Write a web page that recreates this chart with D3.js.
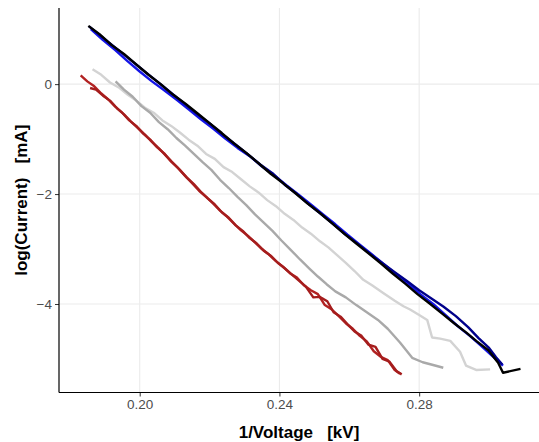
<!DOCTYPE html>
<html>
<head>
<meta charset="utf-8">
<script src="https://cdn.jsdelivr.net/npm/d3@7"></script>
<style>
  body { margin: 0; background: #fff; }
  text { font-family: "Liberation Sans", Arial, Helvetica, sans-serif; }
</style>
</head>
<body>
<div id="chart"></div>
<script>
// tick values
const xTicks = [0.20, 0.24, 0.28];
const yTicks = [-4, -2, 0];

// series: [1/V, log(I)]
const lightGrey = [
  [0.1865, 0.27], [0.1890, 0.17], [0.1915, 0.03], [0.1940, -0.06], [0.1965, -0.19],
  [0.1990, -0.30], [0.2015, -0.43], [0.2040, -0.52], [0.2065, -0.66], [0.2090, -0.76],
  [0.2115, -0.88], [0.2140, -1.01], [0.2165, -1.12], [0.2190, -1.27], [0.2215, -1.36],
  [0.2240, -1.51], [0.2265, -1.60], [0.2290, -1.73], [0.2315, -1.86], [0.2340, -1.97],
  [0.2365, -2.11], [0.2390, -2.22], [0.2415, -2.36], [0.2440, -2.47], [0.2465, -2.61],
  [0.2490, -2.72], [0.2516, -2.86], [0.2540, -2.97], [0.2565, -3.11], [0.2590, -3.25],
  [0.2615, -3.40], [0.2640, -3.56], [0.2665, -3.66], [0.2697, -3.80], [0.2730, -3.94],
  [0.2755, -4.04], [0.2774, -4.10], [0.2800, -4.20], [0.2823, -4.29], [0.2837, -4.61],
  [0.2860, -4.63], [0.2889, -4.67], [0.2917, -4.87], [0.2934, -5.12], [0.2963, -5.20],
  [0.3003, -5.19]
];

const midGrey = [
  [0.1931, 0.05], [0.1955, -0.10], [0.1980, -0.23], [0.2005, -0.40], [0.2030, -0.52],
  [0.2055, -0.69], [0.2080, -0.82], [0.2105, -0.98], [0.2130, -1.12], [0.2155, -1.27],
  [0.2180, -1.42], [0.2205, -1.56], [0.2230, -1.74], [0.2255, -1.89], [0.2280, -2.05],
  [0.2305, -2.20], [0.2330, -2.37], [0.2355, -2.52], [0.2380, -2.67], [0.2405, -2.84],
  [0.2430, -3.00], [0.2459, -3.19], [0.2485, -3.35], [0.2510, -3.50], [0.2535, -3.64],
  [0.2560, -3.77], [0.2590, -3.88], [0.2620, -4.02], [0.2650, -4.15], [0.2682, -4.29],
  [0.2710, -4.45], [0.2745, -4.70], [0.2780, -4.98], [0.2810, -5.06], [0.2840, -5.11],
  [0.2869, -5.16]
];

const red1 = [
  [0.1831, 0.16], [0.1850, 0.05], [0.1870, -0.04], [0.1890, -0.17], [0.1910, -0.28],
  [0.1930, -0.41], [0.1950, -0.52], [0.1970, -0.66], [0.1990, -0.76], [0.2010, -0.90],
  [0.2030, -1.01], [0.2050, -1.15], [0.2070, -1.26], [0.2090, -1.41], [0.2110, -1.53],
  [0.2130, -1.67], [0.2150, -1.80], [0.2170, -1.94], [0.2190, -2.05], [0.2210, -2.17],
  [0.2230, -2.30], [0.2250, -2.41], [0.2270, -2.54], [0.2290, -2.66], [0.2310, -2.76],
  [0.2330, -2.88], [0.2350, -3.00], [0.2370, -3.10], [0.2390, -3.22], [0.2410, -3.32],
  [0.2430, -3.44], [0.2450, -3.52], [0.2470, -3.66], [0.2490, -3.75], [0.2510, -3.82],
  [0.2530, -4.02], [0.2550, -4.10], [0.2570, -4.22], [0.2590, -4.35], [0.2610, -4.45],
  [0.2630, -4.58], [0.2650, -4.68], [0.2670, -4.86], [0.2690, -4.96], [0.2710, -5.02],
  [0.2730, -5.20], [0.2745, -5.27]
];

const red2 = [
  [0.1858, -0.07], [0.1875, -0.10], [0.1895, -0.21], [0.1915, -0.30], [0.1935, -0.44],
  [0.1955, -0.55], [0.1975, -0.68], [0.1995, -0.80], [0.2015, -0.92], [0.2035, -1.05],
  [0.2055, -1.17], [0.2075, -1.30], [0.2095, -1.43], [0.2115, -1.56], [0.2135, -1.70],
  [0.2155, -1.82], [0.2175, -1.96], [0.2195, -2.08], [0.2215, -2.19], [0.2235, -2.33],
  [0.2255, -2.43], [0.2275, -2.57], [0.2295, -2.67], [0.2315, -2.80], [0.2335, -2.90],
  [0.2355, -3.03], [0.2375, -3.12], [0.2395, -3.25], [0.2415, -3.35], [0.2435, -3.46],
  [0.2455, -3.57], [0.2475, -3.68], [0.2497, -3.88], [0.2515, -3.87], [0.2537, -3.95],
  [0.2555, -4.15], [0.2575, -4.23], [0.2595, -4.37], [0.2615, -4.50], [0.2635, -4.58],
  [0.2655, -4.74], [0.2675, -4.78], [0.2695, -5.00], [0.2715, -5.05], [0.2735, -5.22],
  [0.2750, -5.28]
];

const blue = [
  [0.1860, 1.00], [0.1895, 0.80], [0.1930, 0.62], [0.1965, 0.42], [0.2000, 0.23],
  [0.2035, 0.05], [0.2070, -0.11], [0.2105, -0.28], [0.2140, -0.46], [0.2175, -0.64],
  [0.2210, -0.81], [0.2245, -0.99], [0.2280, -1.16], [0.2315, -1.31], [0.2350, -1.50],
  [0.2385, -1.66], [0.2420, -1.84], [0.2455, -2.01], [0.2490, -2.19], [0.2525, -2.37],
  [0.2560, -2.55], [0.2595, -2.74], [0.2630, -2.92], [0.2665, -3.10], [0.2700, -3.28],
  [0.2735, -3.46], [0.2770, -3.64], [0.2805, -3.83], [0.2840, -4.00], [0.2875, -4.20],
  [0.2910, -4.40], [0.2945, -4.58], [0.2975, -4.75], [0.3005, -4.92], [0.3030, -5.06],
  [0.3040, -5.12]
];

const navy = [
  [0.1855, 1.05], [0.1890, 0.87], [0.1925, 0.69], [0.1960, 0.51], [0.1995, 0.33],
  [0.2030, 0.15], [0.2065, -0.03], [0.2100, -0.21], [0.2135, -0.39], [0.2170, -0.57],
  [0.2205, -0.74], [0.2240, -0.93], [0.2275, -1.10], [0.2310, -1.28], [0.2345, -1.46],
  [0.2380, -1.62], [0.2415, -1.83], [0.2450, -2.00], [0.2485, -2.19], [0.2520, -2.37],
  [0.2555, -2.55], [0.2590, -2.74], [0.2625, -2.91], [0.2660, -3.09], [0.2695, -3.26],
  [0.2730, -3.42], [0.2765, -3.58], [0.2800, -3.75], [0.2835, -3.90], [0.2870, -4.05],
  [0.2905, -4.22], [0.2940, -4.42], [0.2970, -4.62], [0.3000, -4.80], [0.3020, -4.97],
  [0.3038, -5.10]
];

const black = [
  [0.1853, 1.06], [0.1885, 0.91], [0.1920, 0.71], [0.1955, 0.55], [0.1990, 0.36],
  [0.2025, 0.17], [0.2060, 0.00], [0.2095, -0.19], [0.2130, -0.35], [0.2165, -0.53],
  [0.2200, -0.71], [0.2235, -0.89], [0.2270, -1.08], [0.2305, -1.25], [0.2340, -1.44],
  [0.2375, -1.63], [0.2410, -1.80], [0.2445, -1.98], [0.2480, -2.17], [0.2515, -2.34],
  [0.2550, -2.53], [0.2585, -2.72], [0.2620, -2.90], [0.2655, -3.08], [0.2690, -3.26],
  [0.2725, -3.45], [0.2760, -3.63], [0.2795, -3.82], [0.2830, -3.99], [0.2865, -4.17],
  [0.2900, -4.35], [0.2935, -4.52], [0.2965, -4.68], [0.2998, -4.84], [0.3026, -5.07],
  [0.3040, -5.25], [0.3090, -5.18]
];

const seriesList = [
  { values: lightGrey, color: "#d3d3d3" },
  { values: midGrey, color: "#a9a9a9" },
  { values: red1, color: "#b22222" },
  { values: red2, color: "#a51d1d" },
  { values: blue, color: "#1414e6" },
  { values: navy, color: "#00008b" },
  { values: black, color: "#000000" }
];

const width = 539;
const height = 442;
const plot = { left: 59, right: 539, top: 8, bottom: 392.5 };

const svg = d3.select("#chart").append("svg")
  .attr("width", width)
  .attr("height", height);

const x = d3.scaleLinear()
  .domain([0.1769, 0.3143])
  .range([plot.left, plot.right]);

const y = d3.scaleLinear()
  .domain([-5.61, 1.385])
  .range([plot.bottom, plot.top]);

// grid
svg.append("g")
  .selectAll("line.vgrid")
  .data(xTicks)
  .enter()
  .append("line")
  .attr("x1", d => x(d)).attr("x2", d => x(d))
  .attr("y1", plot.top).attr("y2", plot.bottom)
  .attr("stroke", "#ebebeb")
  .attr("stroke-width", 1.1);

svg.append("g")
  .selectAll("line.hgrid")
  .data(yTicks)
  .enter()
  .append("line")
  .attr("x1", plot.left).attr("x2", plot.right)
  .attr("y1", d => y(d)).attr("y2", d => y(d))
  .attr("stroke", "#ebebeb")
  .attr("stroke-width", 1.1);

// lines
const line = d3.line()
  .x(d => x(d[0]))
  .y(d => y(d[1]));

svg.append("g")
  .selectAll("path")
  .data(seriesList)
  .enter()
  .append("path")
  .attr("d", d => line(d.values))
  .attr("fill", "none")
  .attr("stroke", d => d.color)
  .attr("stroke-width", 2.4)
  .attr("stroke-linejoin", "round")
  .attr("stroke-linecap", "butt");

// axes
const xAxis = svg.append("g")
  .attr("transform", `translate(0,${plot.bottom})`)
  .call(d3.axisBottom(x).tickValues(xTicks).tickFormat(d3.format(".2f")).tickSize(4).tickPadding(3));

const yAxis = svg.append("g")
  .attr("transform", `translate(${plot.left},0)`)
  .call(d3.axisLeft(y).tickValues(yTicks).tickFormat(d3.format("d")).tickSize(4).tickPadding(3));

[xAxis, yAxis].forEach(ax => {
  ax.select(".domain").remove();
  ax.selectAll(".tick line").attr("stroke", "#333");
  ax.selectAll(".tick text")
    .attr("fill", "#4d4d4d")
    .style("font-size", "13.5px");
});

svg.append("line")
  .attr("x1", plot.left).attr("x2", plot.right)
  .attr("y1", plot.bottom).attr("y2", plot.bottom)
  .attr("stroke", "#000").attr("stroke-width", 1.2);

svg.append("line")
  .attr("x1", plot.left).attr("x2", plot.left)
  .attr("y1", plot.top).attr("y2", plot.bottom)
  .attr("stroke", "#000").attr("stroke-width", 1.2);

// titles
svg.append("text")
  .attr("x", (plot.left + plot.right) / 2)
  .attr("y", 438)
  .attr("text-anchor", "middle")
  .style("white-space", "pre")
  .style("font-size", "17px")
  .style("font-weight", "bold")
  .text("1/Voltage   [kV]");

svg.append("text")
  .attr("transform", `translate(27,${(plot.top + plot.bottom) / 2}) rotate(-90)`)
  .attr("text-anchor", "middle")
  .style("white-space", "pre")
  .style("font-size", "17px")
  .style("font-weight", "bold")
  .text("log(Current)   [mA]");
</script>
</body>
</html>
